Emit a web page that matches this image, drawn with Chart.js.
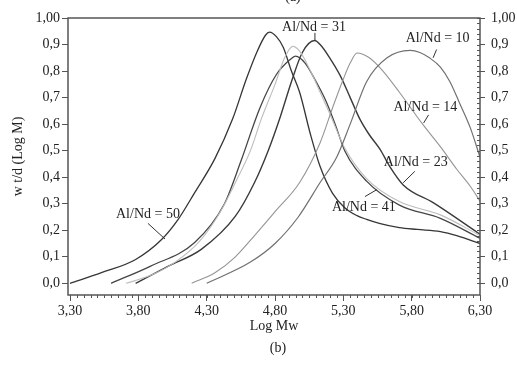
<!DOCTYPE html>
<html>
<head>
<meta charset="utf-8">
<script src="https://cdn.jsdelivr.net/npm/chart.js@4.4.1/dist/chart.umd.min.js"></script>
<style>
  html, body { margin: 0; padding: 0; background: #fff; }
  #wrap { width: 517px; height: 365px; }
</style>
</head>
<body>
<div id="wrap"><canvas id="gpcChart" width="517" height="365"></canvas></div>
<script>
// axis ticks
const xTicks = [3.30, 3.80, 4.30, 4.80, 5.30, 5.80, 6.30];
const xTickLabels = ['3,30', '3,80', '4,30', '4,80', '5,30', '5,80', '6,30'];
const yTicks = [0, 0.1, 0.2, 0.3, 0.4, 0.5, 0.6, 0.7, 0.8, 0.9, 1.0];
const yTickLabels = ['0,0', '0,1', '0,2', '0,3', '0,4', '0,5', '0,6', '0,7', '0,8', '0,9', '1,00'];

// curves (Log Mw, w t/d(Log M))
const al50X = [3.30, 3.53, 3.78, 3.97, 4.09, 4.21, 4.36, 4.49, 4.59, 4.67, 4.73, 4.76, 4.81, 4.86, 4.92, 4.98, 5.06, 5.13, 5.22, 5.31, 5.40, 5.47, 5.57, 5.71, 5.84, 6.01, 6.13, 6.30];
const al50Y = [0.00, 0.04, 0.09, 0.165, 0.24, 0.34, 0.47, 0.62, 0.77, 0.875, 0.935, 0.947, 0.93, 0.89, 0.80, 0.72, 0.56, 0.44, 0.34, 0.285, 0.255, 0.241, 0.225, 0.21, 0.203, 0.195, 0.18, 0.15];

const al41X = [3.71, 3.89, 4.07, 4.25, 4.40, 4.51, 4.62, 4.70, 4.80, 4.87, 4.93, 4.98, 5.06, 5.13, 5.20, 5.31, 5.47, 5.71, 6.01, 6.30];
const al41Y = [0.00, 0.03, 0.08, 0.16, 0.27, 0.38, 0.50, 0.62, 0.75, 0.85, 0.893, 0.875, 0.80, 0.72, 0.64, 0.51, 0.395, 0.308, 0.258, 0.18];

const al23X = [3.60, 3.89, 4.21, 4.43, 4.55, 4.69, 4.81, 4.91, 4.95, 5.02, 5.09, 5.17, 5.24, 5.31, 5.47, 5.71, 6.01, 6.30];
const al23Y = [0.00, 0.065, 0.153, 0.30, 0.46, 0.662, 0.787, 0.843, 0.856, 0.83, 0.77, 0.69, 0.60, 0.50, 0.385, 0.295, 0.245, 0.17];

const al31X = [3.78, 4.02, 4.26, 4.51, 4.65, 4.75, 4.84, 4.92, 5.00, 5.09, 5.13, 5.20, 5.28, 5.35, 5.42, 5.49, 5.57, 5.64, 5.74, 5.96, 6.30];
const al31Y = [0.00, 0.065, 0.128, 0.253, 0.38, 0.50, 0.63, 0.76, 0.87, 0.915, 0.90, 0.85, 0.78, 0.70, 0.62, 0.56, 0.504, 0.44, 0.37, 0.303, 0.185];

const al14X = [4.19, 4.36, 4.51, 4.65, 4.80, 4.98, 5.13, 5.22, 5.30, 5.35, 5.40, 5.49, 5.59, 5.71, 5.88, 6.01, 6.13, 6.23, 6.30];
const al14Y = [0.00, 0.04, 0.10, 0.18, 0.27, 0.38, 0.53, 0.66, 0.77, 0.83, 0.868, 0.85, 0.80, 0.72, 0.60, 0.515, 0.43, 0.365, 0.31];

const al10X = [4.30, 4.62, 4.80, 4.97, 5.13, 5.25, 5.35, 5.47, 5.62, 5.79, 5.86, 5.93, 6.01, 6.08, 6.15, 6.23, 6.30];
const al10Y = [0.00, 0.08, 0.15, 0.25, 0.38, 0.474, 0.60, 0.76, 0.85, 0.878, 0.87, 0.85, 0.815, 0.76, 0.68, 0.585, 0.475];

// curve labels: text position and leader line (data units)
const labelTexts = ['Al/Nd = 31', 'Al/Nd = 10', 'Al/Nd = 14', 'Al/Nd = 23', 'Al/Nd = 41', 'Al/Nd = 50'];
const labelPos = [[5.085, 0.966], [5.99, 0.925], [5.90, 0.665], [5.83, 0.455], [5.45, 0.286], [3.87, 0.259]];
const leaderFrom = [[5.092, 0.944], [5.982, 0.881], [5.924, 0.635], [5.823, 0.422], [5.545, 0.353], [3.87, 0.226]];
const leaderTo = [[5.092, 0.917], [5.957, 0.850], [5.887, 0.604], [5.738, 0.379], [5.458, 0.327], [3.995, 0.167]];

const FONT = 'Liberation Serif, Times New Roman, serif';
const INK = '#222';

function series(xs, ys, color, width) {
    return {
        data: xs.map((x, i) => ({ x: x, y: ys[i] })),
        borderColor: color,
        borderWidth: width,
        pointRadius: 0,
        tension: 0.4,
        cubicInterpolationMode: 'monotone',
        fill: false
    };
}

const framePlugin = {
    id: 'frame',
    afterDraw(chart) {
        const ctx = chart.ctx;
        const a = chart.chartArea;
        const xs = chart.scales.x;
        const ys = chart.scales.y;
        ctx.save();
        // box
        ctx.strokeStyle = '#555';
        ctx.lineWidth = 1.5;
        ctx.strokeRect(a.left, a.top, a.right - a.left, a.bottom - a.top);

        // minor ticks on x (every 0.05) and right y (every 0.02)
        ctx.lineWidth = 1;
        ctx.beginPath();
        for (let v = 3.30; v <= 6.301; v += 0.05) {
            const px = Math.round(xs.getPixelForValue(v)) + 0.5;
            ctx.moveTo(px, a.bottom);
            ctx.lineTo(px, a.bottom + 3);
        }
        for (let v = 0; v <= 1.001; v += 0.02) {
            const py = Math.round(ys.getPixelForValue(v)) + 0.5;
            ctx.moveTo(a.right, py);
            ctx.lineTo(a.right - 3, py);
        }
        ctx.stroke();

        // curve labels with leaders
        ctx.fillStyle = INK;
        ctx.strokeStyle = '#333';
        ctx.font = '14px ' + FONT;
        ctx.textAlign = 'center';
        ctx.textBaseline = 'middle';
        labelTexts.forEach((t, i) => {
            ctx.fillText(t, xs.getPixelForValue(labelPos[i][0]), ys.getPixelForValue(labelPos[i][1]));
            ctx.beginPath();
            ctx.moveTo(xs.getPixelForValue(leaderFrom[i][0]), ys.getPixelForValue(leaderFrom[i][1]));
            ctx.lineTo(xs.getPixelForValue(leaderTo[i][0]), ys.getPixelForValue(leaderTo[i][1]));
            ctx.stroke();
        });

        // panel letters
        const mid = (a.left + a.right) / 2;
        ctx.textBaseline = 'alphabetic';
        ctx.fillText('(a)', mid + 19, 1);
        ctx.fillText('(b)', mid + 4, 352);
        ctx.restore();
    }
};

const tickFont = { family: FONT, size: 14 };

new Chart(document.getElementById('gpcChart'), {
    type: 'line',
    data: {
        datasets: [
            series(al10X, al10Y, '#707070', 1.2),
            series(al14X, al14Y, '#959595', 1.1),
            series(al41X, al41Y, '#bdbdbd', 1.1),
            series(al23X, al23Y, '#454545', 1.3),
            series(al31X, al31Y, '#3a3a3a', 1.4),
            series(al50X, al50Y, '#353535', 1.3)
        ]
    },
    options: {
        responsive: false,
        animation: false,
        devicePixelRatio: 1,
        layout: { padding: { top: 18, left: 0, right: 0, bottom: 0 } },
        plugins: { legend: { display: false }, tooltip: { enabled: false } },
        scales: {
            x: {
                type: 'linear',
                min: 3.285,
                max: 6.30,
                afterBuildTicks: s => { s.ticks = xTicks.map(v => ({ value: v })); },
                afterFit: s => { s.height = 70; },
                grid: { drawOnChartArea: false, tickLength: 6, tickColor: '#555' },
                border: { display: false },
                ticks: {
                    autoSkip: false, maxRotation: 0, padding: 2,
                    color: INK, font: tickFont,
                    callback: (v, i) => xTickLabels[i]
                },
                title: {
                    display: true, text: 'Log Mw', color: INK,
                    font: tickFont, padding: { top: 0, bottom: 30 }
                }
            },
            y: {
                position: 'left',
                min: -0.044,
                max: 1.0,
                afterBuildTicks: s => { s.ticks = yTicks.map(v => ({ value: v })); },
                afterFit: s => { s.width = 68; },
                grid: { drawOnChartArea: false, tickLength: 6, tickColor: '#555' },
                border: { display: false },
                ticks: {
                    autoSkip: false, padding: 2,
                    color: INK, font: tickFont,
                    callback: (v, i) => yTickLabels[i]
                },
                title: {
                    display: true, text: 'w t/d (Log M)', color: INK,
                    font: tickFont, padding: { top: 10, bottom: 0 }
                }
            },
            y2: {
                position: 'right',
                min: -0.044,
                max: 1.0,
                afterBuildTicks: s => { s.ticks = yTicks.map(v => ({ value: v })); },
                afterFit: s => { s.width = 37; },
                grid: { drawOnChartArea: false, tickLength: 5, tickColor: '#555' },
                border: { display: false },
                ticks: {
                    autoSkip: false, padding: 6,
                    color: INK, font: tickFont,
                    callback: (v, i) => yTickLabels[i]
                }
            }
        }
    },
    plugins: [framePlugin]
});
</script>
</body>
</html>
